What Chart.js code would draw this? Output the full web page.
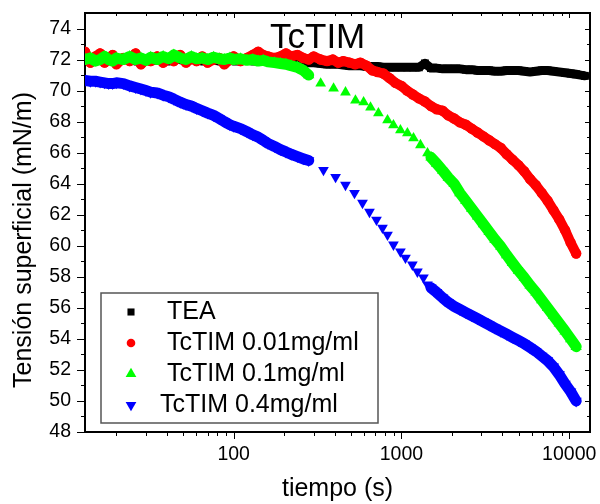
<!DOCTYPE html>
<html>
<head>
<meta charset="utf-8">
<script src="https://cdn.jsdelivr.net/npm/chart.js@4.4.1/dist/chart.umd.min.js"></script>
<style>
  html, body { margin: 0; padding: 0; background: #fff; }
  canvas { display: block; }
</style>
</head>
<body>
<canvas id="grafica" width="600" height="504"></canvas>
<script>
// tiempos (s) de la zona de muestreo denso
const tiempo = [13, 14, 15, 16, 17, 18, 19, 20, 22, 24,
  26, 28, 30, 32, 35, 38, 41, 44, 48, 52,
  56, 60, 65, 70, 76, 82, 88, 95, 100, 110,
  120, 130, 140, 150, 160, 175, 190, 205, 220, 240,
  260, 280, 300, 330, 360, 390, 420, 450, 490, 530,
  570, 620, 670, 720, 780, 850, 920, 1000, 1080, 1170,
  1270, 1380, 1500, 1620, 1760, 1900, 2060, 2230, 2420, 2620,
  2840, 3080, 3330, 3610, 3910, 4240, 4590, 4980, 5390, 5840,
  6330, 6860, 7430, 8050, 8720, 9450, 10200, 11000, 11700, 12400];

const tea = [72.0, 71.9, 72.0, 72.1, 71.9, 72.0, 72.0, 71.9, 72.0, 72.1,
  71.9, 72.0, 72.0, 71.9, 72.0, 72.1, 71.9, 72.0, 72.0, 71.9,
  72.0, 72.0, 71.9, 72.0, 72.0, 71.9, 72.0, 72.0, 71.9, 71.9,
  72.0, 71.9, 71.9, 72.0, 71.9, 71.9, 71.8, 71.9, 71.8, 71.8,
  71.8, 71.8, 71.8, 71.75, 71.7, 71.7, 71.7, 71.65, 71.6, 71.6,
  71.6, 71.55, 71.55, 71.55, 71.5, 71.5, 71.5, 71.5, 71.5, 71.5,
  71.5, 71.75, 71.45, 71.45, 71.4, 71.4, 71.4, 71.4, 71.35, 71.35,
  71.3, 71.3, 71.3, 71.25, 71.25, 71.3, 71.3, 71.3, 71.25, 71.2,
  71.25, 71.3, 71.3, 71.25, 71.2, 71.15, 71.1, 71.05, 71.0, 70.95];

const rojo = [72.5, 71.8, 72.2, 72.4, 71.8, 72.0, 72.3, 71.7, 72.1, 71.9,
  72.4, 71.7, 72.0, 71.9, 72.2, 71.8, 72.1, 71.9, 72.3, 71.8,
  72.1, 71.9, 72.2, 71.8, 72.0, 72.1, 71.7, 72.0, 72.2, 71.9,
  72.1, 72.3, 72.5, 72.3, 72.2, 72.1, 72.2, 72.4, 72.2, 72.3,
  72.1, 72.0, 72.2, 72.0, 71.9, 72.0, 71.8, 71.9, 71.8, 71.7,
  71.8, 71.6, 71.3, 71.2, 71.1, 70.8, 70.5, 70.3, 70.0, 69.75,
  69.5, 69.3, 69.0, 68.8, 68.7, 68.4, 68.2, 67.95, 67.8, 67.55,
  67.3, 67.05, 66.8, 66.55, 66.3, 65.9, 65.55, 65.2, 64.8, 64.3,
  63.9, 63.4, 62.9, 62.3, 61.7, 61.0, 60.2, 59.5, null, null];

const verde = [72.0, 72.1, 71.9, 72.0, 72.2, 72.0, 71.9, 72.1, 72.0, 72.2,
  72.0, 72.1, 71.95, 72.15, 72.0, 72.2, 72.05, 72.3, 72.1, 72.0,
  72.2, 72.05, 72.1, 72.0, 72.15, 72.05, 72.0, 72.1, 72.0, 72.05,
  71.95, 72.0, 71.9, 71.95, 71.85, 71.8, 71.75, 71.7, 71.6, 71.5,
  71.3, 71.0, null, null, null, null, null, null, null, null,
  null, null, null, null, null, null, null, null, null, null,
  null, null, 65.7, 65.3, 64.85, 64.4, 64.0, 63.4, 62.9, 62.4,
  61.9, 61.4, 60.9, 60.4, 59.95, 59.4, 58.9, 58.4, 57.95, 57.45,
  57.0, 56.5, 56.0, 55.5, 55.0, 54.5, 54.0, 53.5, null, null];

const azul = [70.65, 70.6, 70.6, 70.55, 70.5, 70.45, 70.45, 70.5, 70.45, 70.3,
  70.2, 70.1, 70.0, 69.9, 69.85, 69.7, 69.6, 69.45, 69.25, 69.1,
  69.0, 68.85, 68.7, 68.55, 68.4, 68.2, 68.0, 67.8, 67.7, 67.55,
  67.35, 67.15, 67.0, 66.8, 66.6, 66.4, 66.2, 66.05, 65.9, 65.75,
  65.6, 65.5, null, null, null, null, null, null, null, null,
  null, null, null, null, null, null, null, null, null, null,
  null, null, 57.3, 57.0, 56.65, 56.35, 56.1, 55.9, 55.7, 55.5,
  55.3, 55.1, 54.9, 54.7, 54.5, 54.3, 54.1, 53.9, 53.7, 53.45,
  53.2, 52.9, 52.6, 52.2, 51.7, 51.1, 50.6, 50.0, null, null];

// puntos sueltos (muestreo espaciado)
const tVerdeSuelto = [330, 394, 464, 532, 595, 654, 729, 826, 896, 986, 1085, 1180, 1298, 1430];
const verdeSuelto = [70.46, 70.14, 69.89, 69.37, 69.25, 68.92, 68.54, 68.09, 67.77, 67.45, 67.26, 66.93, 66.49, 65.97];
const tAzulSuelto = [343, 405, 464, 525, 586, 645, 710, 771, 826, 896, 986, 1057, 1162, 1245, 1352, 1429];
const azulSuelto = [64.88, 64.43, 63.92, 63.4, 62.76, 62.18, 61.67, 61.16, 60.71, 60.07, 59.62, 59.23, 58.78, 58.33, 57.95, 57.5];

const etiquetas = ['TEA', 'TcTIM 0.01mg/ml', 'TcTIM 0.1mg/ml', 'TcTIM 0.4mg/ml'];
const etiquetasX = [100, 1000, 10000];
const etiquetasY = [48, 50, 52, 54, 56, 58, 60, 62, 64, 66, 68, 70, 72, 74];

const fuente = '"Liberation Sans", Arial, sans-serif';

function puntos(ts, vs) {
  return ts.map((t, i) => ({ x: t, y: vs[i] }));
}

// serie densa: marcadores encimados + trazo grueso del mismo color
function denso(label, data, color, estilo, radio, grosor, orden, giro) {
  return {
    label: label, data: data,
    showLine: true, spanGaps: false,
    borderColor: color, borderWidth: grosor,
    borderJoinStyle: 'round', borderCapStyle: 'round',
    pointStyle: estilo, pointRadius: radio, pointRotation: giro || 0,
    pointBackgroundColor: color, pointBorderColor: color, pointBorderWidth: 0,
    order: orden
  };
}

function suelto(label, data, color, estilo, radio, orden, giro) {
  return {
    label: label, data: data, showLine: false,
    pointStyle: estilo, pointRadius: radio, pointRotation: giro || 0,
    pointBackgroundColor: color, pointBorderColor: color, pointBorderWidth: 0,
    order: orden
  };
}

// marcos, ticks menores, titulo y leyenda
const decorado = {
  id: 'decorado',
  afterDraw(chart) {
    const ctx = chart.ctx;
    const a = chart.chartArea;
    const sx = chart.scales.x;
    const sy = chart.scales.y;
    ctx.save();
    ctx.strokeStyle = '#000';
    ctx.lineWidth = 2;
    ctx.beginPath();
    ctx.moveTo(a.left, a.top);
    ctx.lineTo(a.right, a.top);
    ctx.lineTo(a.right, a.bottom);
    ctx.stroke();

    ctx.lineWidth = 1;
    ctx.beginPath();
    // eje x (logaritmico)
    for (const dec of [10, 100, 1000, 10000]) {
      for (let k = 1; k <= 9; k++) {
        const v = k * dec;
        if (v < sx.min || v > sx.max) continue;
        const mayor = k === 1;
        const px = Math.round(sx.getPixelForValue(v)) + 0.5;
        ctx.moveTo(px, a.bottom);
        ctx.lineTo(px, a.bottom + (mayor ? 7 : 4));
        ctx.moveTo(px, a.top);
        ctx.lineTo(px, a.top + (mayor ? 5 : 3));
      }
    }
    // eje y
    for (let v = 48; v < 75; v++) {
      const mayor = v % 2 === 0;
      const py = Math.round(sy.getPixelForValue(v)) + 0.5;
      ctx.moveTo(a.left, py);
      ctx.lineTo(a.left - (mayor ? 8 : 4), py);
      ctx.moveTo(a.right, py);
      ctx.lineTo(a.right - (mayor ? 5 : 3), py);
    }
    ctx.stroke();

    // titulo dentro del grafico
    ctx.fillStyle = '#000';
    ctx.font = '35px ' + fuente;
    ctx.textAlign = 'left';
    ctx.textBaseline = 'alphabetic';
    ctx.fillText('TcTIM', 270, 48);

    // titulo del eje y
    ctx.save();
    ctx.translate(24, 240);
    ctx.rotate(-Math.PI / 2);
    ctx.font = '25px ' + fuente;
    ctx.textAlign = 'center';
    ctx.textBaseline = 'middle';
    ctx.fillText('Tensión superficial (mN/m)', 0, 0);
    ctx.restore();

    // leyenda
    ctx.fillStyle = '#fff';
    ctx.fillRect(101, 293, 277, 130);
    ctx.strokeStyle = '#555';
    ctx.lineWidth = 1.5;
    ctx.strokeRect(101, 293, 277, 130);
    const radios = [5, 4.3, 6.2, 6.2];
    const textoX = [167, 167, 167, 160];
    ctx.font = '25px ' + fuente;
    ctx.textAlign = 'left';
    ctx.textBaseline = 'middle';
    etiquetas.forEach((txt, i) => {
      const ds = chart.data.datasets.find(d => d.label === txt);
      const y = 312 + i * 31;
      ctx.fillStyle = ds.pointBackgroundColor;
      Chart.helpers.drawPoint(ctx, {
        pointStyle: ds.pointStyle, radius: radios[i],
        rotation: ds.pointRotation || 0, borderWidth: 0
      }, 131, y);
      ctx.fillStyle = '#000';
      ctx.fillText(txt, textoX[i], y);
    });
    ctx.restore();
  }
};

const ctx = document.getElementById('grafica').getContext('2d');
const grafica = new Chart(ctx, {
  type: 'scatter',
  data: {
    datasets: [
      denso(etiquetas[0], puntos(tiempo, tea), '#000000', 'rect', 5.6, 9, 6),
      denso(etiquetas[1], puntos(tiempo, rojo), '#ff0000', 'circle', 5.2, 10, 5),
      denso(etiquetas[2], puntos(tiempo, verde), '#00ff00', 'triangle', 6.5, 11, 4),
      suelto(etiquetas[2], puntos(tVerdeSuelto, verdeSuelto), '#00ff00', 'triangle', 6.2, 3),
      denso(etiquetas[3], puntos(tiempo, azul), '#0000ff', 'triangle', 6.5, 11, 2, 180),
      suelto(etiquetas[3], puntos(tAzulSuelto, azulSuelto), '#0000ff', 'triangle', 6.2, 1, 180)
    ]
  },
  options: {
    responsive: false,
    animation: false,
    events: [],
    layout: { padding: { top: 13, right: 10, left: 0, bottom: 0 } },
    plugins: {
      legend: { display: false },
      tooltip: { enabled: false }
    },
    scales: {
      x: {
        type: 'logarithmic',
        min: 13,
        max: 13300,
        grid: { display: false, drawTicks: false },
        border: { display: true, color: '#000', width: 2 },
        ticks: {
          color: '#000',
          font: { family: fuente, size: 19.5 },
          padding: 11,
          maxRotation: 0,
          autoSkip: false,
          callback: v => String(v)
        },
        afterBuildTicks: s => { s.ticks = etiquetasX.map(v => ({ value: v })); },
        afterFit: s => {
          s.height = 72;
          s.paddingLeft = 0; s.paddingRight = 0;
        },
        title: {
          display: true,
          text: 'tiempo (s)',
          color: '#000',
          font: { family: fuente, size: 25 },
          padding: { top: 0, bottom: 0 }
        }
      },
      y: {
        min: 48,
        max: 75,
        grid: { display: false, drawTicks: false },
        border: { display: true, color: '#000', width: 2 },
        ticks: {
          color: '#000',
          font: { family: fuente, size: 19.5 },
          padding: 14
        },
        afterBuildTicks: s => { s.ticks = etiquetasY.map(v => ({ value: v })); },
        afterFit: s => {
          s.width = 85;
          s.paddingTop = 0; s.paddingBottom = 0;
        }
      }
    }
  },
  plugins: [decorado]
});
</script>
</body>
</html>
